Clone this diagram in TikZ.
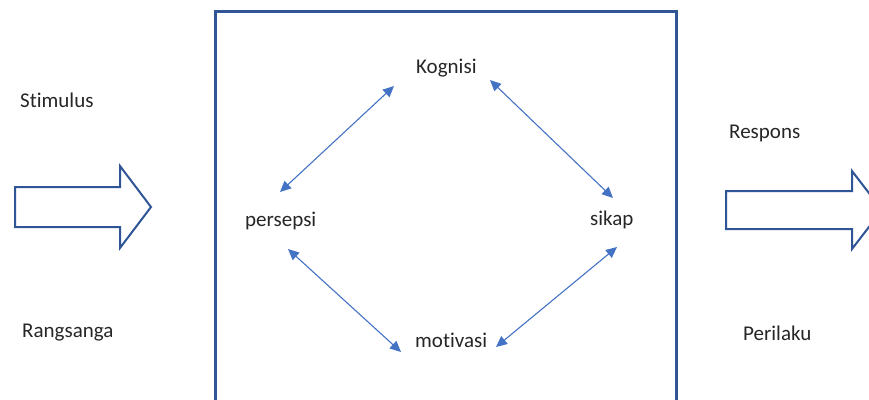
\documentclass[tikz,border=0pt]{standalone}
\usepackage{fontspec}
\setmainfont[Ligatures={NoCommon}]{Carlito}
\usetikzlibrary{arrows.meta}
\definecolor{boxblue}{HTML}{2F5597}
\definecolor{linkblue}{HTML}{4472C4}
\begin{document}
\begin{tikzpicture}[x=1pt,y=-1pt,
  lbl/.style={anchor=base west,inner sep=0pt,font=\fontsize{21}{25}\selectfont,text=black!85},
  link/.style={draw=linkblue,line width=1.1pt,{Triangle[length=11pt,width=10pt]}-{Triangle[length=11pt,width=10pt]}},
  blockarrow/.style={draw=boxblue,line width=2pt,fill=white,line join=miter}]
\useasboundingbox (0,0) rectangle (869,399);
\begin{scope}
\clip (0,0) rectangle (869,399);
% central frame
\draw[draw=boxblue,line width=3pt] (215.5,420) -- (215.5,11) -- (676.5,11) -- (676.5,420);
% left block arrow
\draw[blockarrow] (15,187) -- (120,187) -- (120,166) -- (151,207) -- (120,248) -- (120,227) -- (15,227) -- cycle;
% right block arrow
\draw[blockarrow] (726,191) -- (852,191) -- (852,171) -- (882,210) -- (852,249) -- (852,229) -- (726,229) -- cycle;
\end{scope}
% labels
\node[lbl] (stim) at (20,107) {Stimulus};
\node[lbl] (rang) at (22,337) {Rangsanga};
\node[lbl] (resp) at (729,138) {Respons};
\node[lbl] (peri) at (743,340) {Perilaku};
\node[lbl] (kog) at (416,73) {Kognisi};
\node[lbl] (pers) at (245,226) {persepsi};
\node[lbl] (sik) at (590,225) {sikap};
\node[lbl] (mot) at (415,347) {motivasi};
% link endpoints
\coordinate (pk1) at (280,192); \coordinate (pk2) at (394,86);
\coordinate (ks1) at (490,80);  \coordinate (ks2) at (613,198);
\coordinate (pm1) at (288,249); \coordinate (pm2) at (401,352);
\coordinate (ms1) at (496,347); \coordinate (ms2) at (617,247);
\draw[link] (pk1) -- (pk2);
\draw[link] (ks1) -- (ks2);
\draw[link] (pm1) -- (pm2);
\draw[link] (ms1) -- (ms2);
\end{tikzpicture}
\end{document}
